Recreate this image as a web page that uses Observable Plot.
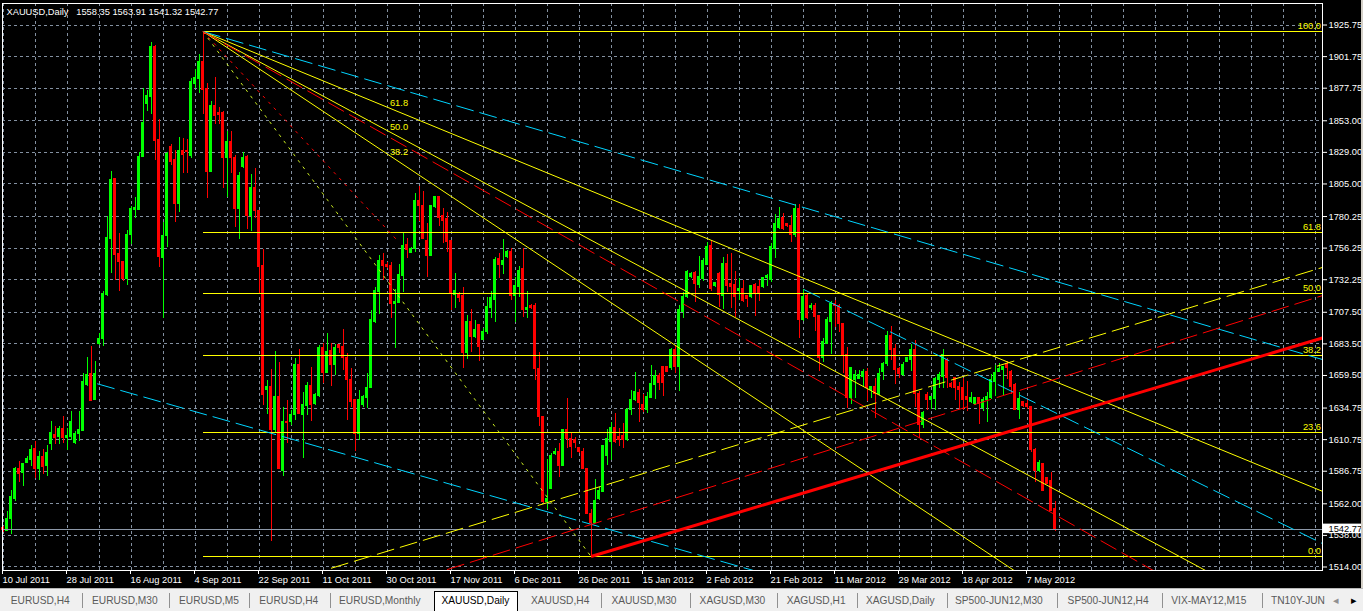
<!DOCTYPE html>
<html><head><meta charset="utf-8">
<script src="https://cdn.jsdelivr.net/npm/d3@7"></script>
<script src="https://cdn.jsdelivr.net/npm/@observablehq/plot@0.6"></script>
<style>
html,body{margin:0;padding:0;width:1363px;height:611px;overflow:hidden;background:#000;}
#chart{position:absolute;left:0;top:0;}
#strip{position:absolute;left:1361px;top:0;width:2px;height:589px;background:#d4d0c8;}
#tabs{position:absolute;left:0;top:588px;width:1363px;height:23px;background:#f0f0f0;border-top:1px solid #b8b8b8;box-sizing:border-box;font-family:"Liberation Sans",Arial,sans-serif;font-size:10.2px;color:#5a5a5a;}
.tab{position:absolute;top:6px;white-space:nowrap;line-height:12px;}
.sep{position:absolute;top:4px;width:1px;height:15px;background:#909090;}
.act{position:absolute;top:2px;height:21px;background:#fff;border:1px solid #000;border-bottom:none;box-sizing:border-box;}
</style></head>
<body>
<div id="chart"></div><div id="strip"></div><div id="tabs"></div>
<script>
// ---------- data ----------
const symbolTitle = "XAUUSD,Daily";
const open = [1543.5,1541.4,1550.8,1566.0,1588.3,1585.7,1593.1,1595.1,1603.4,1588.3,
1597.6,1590.6,1607.2,1614.6,1612.8,1618.6,1612.0,1612.8,1608.5,1614.8,
1617.1,1652.6,1660.4,1640.7,1683.7,1687.0,1720.4,1763.0,1808.6,1751.6,
1745.8,1733.1,1766.0,1785.5,1785.0,1825.5,1865.5,1870.9,1908.9,1838.5,
1748.6,1765.3,1833.0,1823.3,1789.9,1829.9,1830.4,1826.6,1881.1,1884.9,
1898.0,1877.3,1814.0,1864.1,1859.0,1859.0,1824.6,1836.7,1824.6,1785.6,
1817.8,1825.3,1780.5,1801.8,1784.8,1742.5,1648.1,1651.1,1617.7,1643.0,
1587.3,1624.5,1624.5,1629.6,1667.6,1629.1,1636.2,1651.4,1638.0,1643.8,
1680.3,1661.5,1678.4,1667.1,1682.3,1681.0,1672.6,1656.4,1640.5,1615.2,
1637.2,1642.3,1649.9,1700.5,1722.8,1746.1,1743.5,1742.5,1713.9,1714.7,
1735.0,1758.8,1752.7,1755.7,1792.4,1788.6,1762.0,1750.6,1787.4,1795.0,
1781.0,1778.5,1761.3,1720.8,1721.5,1719.5,1676.7,1700.5,1688.6,1697.5,
1686.8,1692.4,1710.6,1717.2,1748.1,1743.5,1749.4,1753.2,1719.7,1726.6,
1740.5,1708.9,1712.6,1712.1,1664.5,1627.8,1563.3,1573.4,1600.0,1601.7,
1591.1,1617.7,1610.9,1610.1,1604.3,1601.7,1588.6,1554.4,1547.6,1565.8,
1570.8,1598.2,1609.3,1619.5,1612.6,1613.4,1610.1,1632.9,1640.5,1646.3,
1637.2,1632.9,1642.3,1652.4,1658.9,1665.8,1665.8,1665.0,1678.5,1665.8,
1708.1,1719.0,1734.2,1737.5,1728.4,1732.9,1743.5,1757.7,1727.3,1736.7,
1719.7,1744.3,1729.1,1728.4,1723.3,1725.3,1719.7,1719.0,1728.3,1726.6,
1726.6,1733.4,1732.4,1755.7,1771.4,1779.0,1774.7,1772.7,1766.3,1786.1,
1701.3,1719.7,1710.6,1712.6,1704.5,1672.6,1683.5,1700.5,1713.9,1712.6,
1698.7,1675.2,1642.3,1656.4,1656.9,1658.2,1662.0,1648.1,1650.6,1645.5,
1662.5,1668.3,1689.4,1679.7,1664.5,1660.0,1670.1,1670.9,1679.2,1645.5,
1622.0,1644.8,1641.2,1641.7,1655.7,1658.2,1671.6,1653.1,1657.4,1650.6,
1649.9,1643.0,1639.2,1637.9,1642.3,1634.7,1640.5,1642.3,1654.9,1662.0,
1663.3,1668.3,1662.5,1651.9,1633.6,1639.2,1637.9,1635.4,1602.5,1587.3,
1592.4,1581.5,1579.7,1558.35];
const high = [1545.0,1556.4,1572.3,1589.3,1593.8,1592.6,1598.1,1606.5,1609.5,1601.4,
1603.4,1606.5,1624.2,1620.9,1620.4,1628.0,1619.2,1632.3,1616.6,1631.8,
1660.9,1672.8,1681.7,1669.8,1691.3,1723.0,1780.0,1814.6,1808.6,1767.3,
1746.3,1769.8,1787.5,1794.6,1828.6,1877.4,1876.2,1912.7,1910.2,1853.7,
1775.5,1829.1,1834.7,1830.4,1840.5,1839.8,1838.8,1884.9,1891.7,1903.1,
1920.8,1881.1,1867.6,1886.1,1863.3,1860.0,1844.8,1844.8,1826.6,1814.0,
1828.6,1826.6,1811.9,1816.5,1785.0,1755.2,1655.7,1664.1,1677.7,1669.6,
1635.4,1640.5,1632.9,1672.6,1679.2,1646.8,1654.4,1665.8,1645.5,1682.3,
1683.5,1691.1,1683.5,1682.8,1682.8,1694.4,1676.0,1664.5,1641.2,1648.1,
1644.3,1660.7,1708.9,1726.6,1750.6,1751.9,1745.1,1745.6,1724.8,1743.5,
1767.1,1763.3,1757.0,1797.5,1803.3,1799.3,1774.7,1788.6,1795.7,1795.2,
1786.1,1783.1,1762.0,1736.7,1722.3,1726.6,1705.1,1709.6,1701.3,1698.0,
1695.4,1719.0,1723.3,1749.4,1751.9,1762.8,1754.4,1755.7,1734.2,1742.5,
1755.7,1723.3,1713.2,1713.9,1677.2,1628.0,1595.7,1600.0,1603.8,1607.6,
1617.7,1641.7,1615.2,1612.6,1605.0,1603.8,1589.1,1557.7,1580.5,1574.6,
1606.3,1618.4,1624.0,1630.4,1619.0,1622.8,1634.7,1648.1,1661.5,1648.8,
1644.8,1646.8,1667.1,1663.3,1660.7,1666.6,1666.6,1680.2,1681.8,1712.6,
1722.8,1739.3,1738.0,1738.5,1750.1,1748.6,1760.3,1762.0,1730.4,1738.0,
1749.4,1751.1,1751.9,1738.5,1732.9,1731.6,1720.3,1727.8,1729.1,1731.6,
1734.2,1735.9,1759.5,1781.5,1787.4,1782.3,1775.2,1781.0,1789.1,1789.1,
1724.8,1720.8,1713.9,1713.9,1705.1,1687.8,1703.8,1715.7,1716.5,1713.2,
1699.2,1681.0,1665.8,1663.3,1663.3,1664.0,1664.5,1651.4,1657.4,1665.1,
1669.1,1692.9,1697.0,1682.8,1665.8,1669.6,1673.4,1682.8,1686.1,1647.3,
1632.1,1646.3,1643.5,1658.2,1662.0,1679.2,1672.1,1654.4,1658.2,1654.4,
1656.9,1654.9,1646.3,1643.0,1643.0,1643.0,1646.8,1660.0,1667.1,1668.3,
1666.6,1670.1,1663.3,1653.1,1646.3,1639.7,1641.7,1636.2,1603.8,1594.9,
1592.9,1582.2,1586.0,1563.91];
const low = [1540.5,1540.6,1539.0,1563.4,1578.0,1574.8,1592.6,1590.0,1581.2,1579.9,
1584.2,1582.4,1602.7,1607.0,1607.0,1607.7,1602.2,1610.3,1607.0,1609.5,
1616.6,1650.8,1639.4,1640.2,1682.5,1681.2,1719.2,1736.9,1731.9,1723.0,
1730.6,1728.0,1758.9,1778.7,1784.5,1825.0,1859.7,1857.5,1822.8,1741.8,
1702.5,1757.0,1819.0,1776.0,1783.6,1812.7,1812.7,1824.1,1877.3,1873.5,
1857.5,1793.7,1813.5,1849.9,1849.9,1801.8,1795.0,1812.7,1772.2,1762.8,
1817.0,1770.4,1768.9,1778.5,1721.5,1636.7,1629.6,1533.4,1615.9,1588.1,
1583.0,1607.6,1621.5,1625.3,1630.0,1596.2,1629.1,1624.5,1636.7,1643.0,
1653.2,1660.7,1651.4,1659.5,1676.0,1663.3,1625.3,1635.4,1601.8,1610.1,
1635.4,1634.7,1649.4,1698.7,1705.6,1731.6,1740.5,1703.0,1680.3,1713.9,
1722.3,1748.1,1751.9,1753.2,1776.4,1762.8,1734.2,1750.0,1786.6,1772.9,
1759.5,1752.7,1708.9,1710.1,1715.2,1665.0,1671.6,1676.7,1687.3,1670.1,
1686.0,1690.4,1703.0,1699.5,1732.9,1736.0,1748.6,1716.4,1699.5,1719.0,
1703.8,1702.5,1709.6,1655.7,1621.0,1562.0,1557.7,1572.9,1598.7,1582.2,
1590.5,1603.8,1596.2,1603.8,1600.0,1588.0,1553.6,1522.0,1546.8,1564.5,
1570.3,1591.1,1594.9,1607.6,1605.8,1603.8,1609.3,1629.1,1639.7,1624.0,
1631.6,1630.4,1641.8,1641.2,1648.1,1643.8,1661.5,1663.3,1660.7,1647.3,
1702.5,1718.2,1733.4,1715.2,1725.3,1730.9,1743.0,1723.3,1726.6,1711.4,
1709.6,1722.8,1710.6,1703.8,1716.4,1715.2,1711.4,1717.7,1704.6,1715.7,
1725.8,1727.3,1730.4,1748.6,1770.4,1769.6,1772.2,1760.8,1764.6,1687.8,
1700.5,1702.0,1708.9,1692.9,1662.5,1669.6,1682.8,1675.2,1696.2,1691.9,
1660.7,1634.2,1637.2,1641.8,1656.4,1650.6,1639.7,1642.3,1627.1,1644.3,
1655.7,1666.6,1670.9,1652.4,1657.4,1659.0,1669.6,1662.5,1635.4,1611.4,
1619.0,1632.9,1633.6,1632.9,1649.9,1649.9,1649.9,1649.9,1640.5,1633.6,
1632.9,1632.1,1637.9,1636.7,1622.0,1632.1,1623.5,1641.2,1643.8,1661.5,
1644.3,1656.4,1644.8,1632.9,1626.0,1635.4,1633.6,1601.2,1578.4,1585.5,
1571.4,1576.4,1556.1,1541.32];
const close = [1542.0,1550.8,1567.2,1588.3,1585.0,1592.6,1595.8,1602.7,1588.3,1597.6,
1590.1,1600.7,1615.9,1612.3,1618.6,1612.3,1613.6,1624.2,1615.4,1617.9,
1654.6,1659.7,1640.2,1660.4,1687.5,1721.7,1764.0,1807.8,1750.8,1745.8,
1733.1,1766.0,1785.8,1786.8,1825.5,1851.6,1871.6,1909.4,1838.0,1749.4,
1765.8,1827.9,1822.0,1789.9,1829.9,1827.1,1829.6,1882.8,1885.4,1898.0,
1876.5,1814.0,1864.1,1856.5,1857.5,1824.6,1836.7,1824.6,1785.6,1811.0,
1824.6,1780.5,1801.8,1784.1,1741.8,1644.3,1651.1,1617.7,1643.0,1588.6,
1624.5,1623.5,1629.6,1667.6,1630.4,1636.7,1651.4,1636.7,1644.3,1680.3,
1661.5,1677.7,1667.1,1680.3,1680.3,1672.6,1655.7,1639.7,1615.2,1641.2,
1643.0,1649.9,1701.3,1723.3,1746.1,1742.5,1741.8,1713.9,1715.2,1735.5,
1758.2,1754.5,1755.7,1792.4,1788.1,1763.3,1750.6,1788.1,1795.0,1779.0,
1777.2,1760.8,1721.5,1723.3,1718.2,1676.7,1700.5,1688.6,1694.4,1681.0,
1692.9,1711.4,1718.2,1747.6,1743.5,1746.1,1753.2,1719.7,1727.3,1739.2,
1708.9,1710.6,1710.6,1664.5,1627.8,1563.3,1565.8,1598.2,1601.7,1591.1,
1617.7,1610.9,1605.0,1608.3,1601.2,1588.6,1554.4,1547.6,1563.8,1572.1,
1605.8,1610.9,1619.5,1609.3,1610.1,1610.1,1633.6,1641.2,1646.8,1638.7,
1632.9,1643.0,1653.1,1658.9,1653.9,1653.9,1662.0,1678.5,1665.8,1708.9,
1719.0,1738.0,1736.7,1729.1,1734.2,1746.1,1757.0,1725.3,1729.9,1720.3,
1744.3,1727.8,1726.6,1719.0,1725.3,1716.4,1717.7,1727.3,1722.3,1722.3,
1733.4,1735.4,1757.0,1774.7,1778.5,1770.9,1772.9,1766.3,1785.6,1701.3,
1719.0,1703.0,1712.1,1703.8,1672.6,1684.8,1701.3,1713.9,1712.1,1698.7,
1675.2,1642.3,1665.1,1659.5,1660.0,1662.5,1649.9,1650.6,1645.5,1660.7,
1668.3,1689.4,1679.2,1664.0,1660.7,1667.6,1672.6,1679.2,1645.5,1622.0,
1631.1,1640.5,1643.0,1656.9,1660.0,1675.2,1657.4,1650.6,1649.9,1648.8,
1640.5,1641.2,1642.3,1642.3,1637.9,1641.2,1643.0,1655.7,1661.5,1664.5,
1665.8,1665.0,1650.6,1633.6,1641.7,1636.2,1635.4,1602.5,1587.3,1593.1,
1572.1,1577.2,1556.9,1542.77];

const priceTicks = [1925.75,1901.75,1877.75,1853.00,1829.00,1805.00,1780.25,1756.25,1732.25,1707.50,1683.50,1659.50,1634.75,1610.75,1586.75,1562.00,1538.00,1514.00];
const dateLabels = ["10 Jul 2011","28 Jul 2011","16 Aug 2011","4 Sep 2011","22 Sep 2011","11 Oct 2011","30 Oct 2011","17 Nov 2011","6 Dec 2011","26 Dec 2011","15 Jan 2012","2 Feb 2012","21 Feb 2012","11 Mar 2012","29 Mar 2012","18 Apr 2012","7 May 2012"];
const barsPerLabel = 16;

// Fibonacci retracement (high -> low) and fan (high -> fan anchor)
const fibHigh = {bar: 50, price: 1920.8};
const fibLow = {bar: 147, price: 1522.0};
const fibRatios = [0, 0.236, 0.382, 0.5, 0.618, 1];
const fibNames = ["0.0","23.6","38.2","50.0","61.8","100.0"];
const fanAnchor = {bar: 99, price: 1760.7};
const fanRatios = [0.382, 0.5, 0.618];
const fanNames = ["38.2","50.0","61.8"];

// trend lines: [bar1, price1, bar2, price2]
const cyanLines = [[50, 1920.8, 330, 1671.5], [23.55, 1653.2, 156.9, 1537.9], [200.2, 1724.8, 330, 1531.6]];
const redDashLines = [[50, 1920.8, 258.95, 1560.7], [111, 1512.0, 330, 1720.3]];
const yellowDashLines = [[82, 1513.0, 330, 1741.7]];
const redSolidLines = [[147, 1522.0, 330, 1688.1]];

const tabNames = ["EURUSD,H4","EURUSD,M30","EURUSD,M5","EURUSD,H4","EURUSD,Monthly","XAUUSD,Daily","XAUUSD,H4","XAUUSD,M30","XAGUSD,M30","XAGUSD,H1","XAGUSD,Daily","SP500-JUN12,M30","SP500-JUN12,H4","VIX-MAY12,M15","TN10Y-JUN"];
const activeTab = 5;

// ---------- build ----------
const GREEN = "#00ff00", RED = "#ff0000", YELLOW = "#ffff00", CYAN = "#00d4ff", GRID = "#8390a0";
const XMIN = -0.125, XMAX = 329.875;
const bars = open.map((o, i) => ({i, open: o, high: high[i], low: low[i], close: close[i]}));
const up = bars.filter(d => d.close >= d.open);
const down = bars.filter(d => d.close < d.open);
const last = bars[bars.length - 1];
const extend = ([x1, y1, x2, y2]) => ({x1, y1, x2: 330, y2: y1 + (y2 - y1) / (x2 - x1) * (330 - x1)});
const seg = ([x1, y1, x2, y2]) => ({x1, y1, x2, y2});

const fibLevels = fibRatios.map((r, k) => ({price: fibLow.price + r * (fibHigh.price - fibLow.price), name: fibNames[k]}));
const fanLevels = fanRatios.map((r, k) => ({price: fanAnchor.price + r * (fibHigh.price - fanAnchor.price), name: fanNames[k]}));
const fanLines = fanLevels.map(f => extend([fibHigh.bar, fibHigh.price, fanAnchor.bar, f.price]));
const dateBars = dateLabels.map((_, k) => k * barsPerLabel);
const labelOf = new Map(dateBars.map((b, k) => [b, dateLabels[k]]));
const gridBars = d3.range(0, 330, barsPerLabel / 2);
const fmt = d3.format(".2f");
const header = `${symbolTitle}\u00a0\u00a0\u00a0${fmt(last.open)} ${fmt(last.high)} ${fmt(last.low)} ${fmt(last.close)}`;

const dashLong = "18,6";
const chart = Plot.plot({
  width: 1363, height: 589,
  marginLeft: 2, marginRight: 41, marginTop: 3, marginBottom: 19,
  x: {domain: [XMIN, XMAX]},
  y: {domain: [1511.33, 1942.1]},
  style: {background: "#000", color: "#fff", fontFamily: "Liberation Sans, Arial, sans-serif", fontSize: "9.3px"},
  marks: [
    Plot.ruleY(priceTicks, {stroke: GRID, strokeDasharray: "3,3", shapeRendering: "crispEdges"}),
    Plot.ruleX(gridBars, {stroke: GRID, strokeDasharray: "3,3", shapeRendering: "crispEdges"}),
    Plot.ruleX(up, {x: "i", y1: "low", y2: "high", stroke: GREEN, shapeRendering: "crispEdges"}),
    Plot.ruleX(down, {x: "i", y1: "low", y2: "high", stroke: RED, shapeRendering: "crispEdges"}),
    Plot.rect(up, {x1: d => d.i - 0.375, x2: d => d.i + 0.375, y1: "open", y2: "close", fill: GREEN, insetTop: -0.5, insetBottom: -0.5, shapeRendering: "crispEdges"}),
    Plot.rect(down, {x1: d => d.i - 0.375, x2: d => d.i + 0.375, y1: "open", y2: "close", fill: RED, insetTop: -0.5, insetBottom: -0.5, shapeRendering: "crispEdges"}),
    Plot.ruleY([last.close], {stroke: "#8c98a8", shapeRendering: "crispEdges"}),
    // fib retracement
    Plot.ruleY(fibLevels, {y: "price", x1: fibHigh.bar, x2: XMAX, stroke: YELLOW, shapeRendering: "crispEdges"}),
    Plot.text(fibLevels, {x: XMAX, y: "price", text: "name", textAnchor: "end", dx: -1.5, dy: -5.5, fill: YELLOW}),
    Plot.link([seg([fibHigh.bar, fibHigh.price, fibLow.bar, fibLow.price])], {x1: "x1", y1: "y1", x2: "x2", y2: "y2", stroke: "#ccee22", strokeDasharray: "3,5", clip: true}),
    // fan
    Plot.link(fanLines, {x1: "x1", y1: "y1", x2: "x2", y2: "y2", stroke: YELLOW, clip: true}),
    Plot.link([seg([fibHigh.bar, fibHigh.price, fanAnchor.bar, fanAnchor.price])], {x1: "x1", y1: "y1", x2: "x2", y2: "y2", stroke: RED, strokeDasharray: "3,5", clip: true}),
    Plot.text(fanLevels, {x: fanAnchor.bar, y: "price", text: "name", dy: -9.5, fill: YELLOW}),
    // trend lines
    Plot.link(cyanLines.map(extend), {x1: "x1", y1: "y1", x2: "x2", y2: "y2", stroke: CYAN, strokeDasharray: dashLong, clip: true}),
    Plot.link(redDashLines.map(extend), {x1: "x1", y1: "y1", x2: "x2", y2: "y2", stroke: RED, strokeDasharray: dashLong, clip: true}),
    Plot.link(yellowDashLines.map(extend), {x1: "x1", y1: "y1", x2: "x2", y2: "y2", stroke: YELLOW, strokeDasharray: dashLong, clip: true}),
    Plot.link(redSolidLines.map(extend), {x1: "x1", y1: "y1", x2: "x2", y2: "y2", stroke: RED, strokeWidth: 3, clip: true}),
    // frame & axes
    Plot.frame({stroke: "#fff", shapeRendering: "crispEdges"}),
    Plot.axisY(priceTicks, {anchor: "right", tickFormat: fmt, tickSize: 4, tickPadding: 2, color: "#fff", label: null}),
    Plot.axisX(dateBars, {anchor: "bottom", tickFormat: d => labelOf.get(d), tickSize: 4, tickPadding: 2, textAnchor: "start", dx: -0.5, color: "#fff", label: null}),
    Plot.rect([last.close], {x1: () => XMAX, x2: () => XMAX, y1: d => d, y2: d => d, insetRight: -41, insetTop: -5, insetBottom: -4.5, fill: "#fff"}),
    Plot.text([last.close], {x: () => XMAX, y: d => d, text: d => fmt(d), textAnchor: "start", dx: 6, fill: "#000"}),
    Plot.text([header], {frameAnchor: "top-left", dx: 4, dy: 4.5, lineAnchor: "top", textAnchor: "start", fill: "#fff"})
  ]
});
document.getElementById("chart").appendChild(chart);

// tab bar
const tabLeft = [10.8,92,179,259.3,339,441.5,531,611.4,699.6,786.7,866,955,1067.6,1171.3,1271];
const sepLeft = [82.4,169,249,329.6,600.6,690,776.7,857,946.5,1056.7,1162,1262];
const tabs = document.getElementById("tabs");
const act = document.createElement("div");
act.className = "act"; act.style.left = "433.6px"; act.style.width = "84.6px";
tabs.appendChild(act);
sepLeft.forEach(x => { const s = document.createElement("div"); s.className = "sep"; s.style.left = x + "px"; tabs.appendChild(s); });
tabNames.forEach((n, k) => {
  const t = document.createElement("div"); t.className = "tab"; t.textContent = n;
  t.style.left = tabLeft[k] + "px";
  if (k === activeTab) t.style.color = "#000";
  tabs.appendChild(t);
});
[["\u25C2", 1333, "#909090"], ["\u25B8", 1351, "#000"]].forEach(([ch, x, c]) => {
  const t = document.createElement("div"); t.className = "tab"; t.textContent = ch;
  t.style.left = x + "px"; t.style.color = c; t.style.fontSize = "11px"; t.style.top = "5px";
  tabs.appendChild(t);
});
</script>
</body></html>
